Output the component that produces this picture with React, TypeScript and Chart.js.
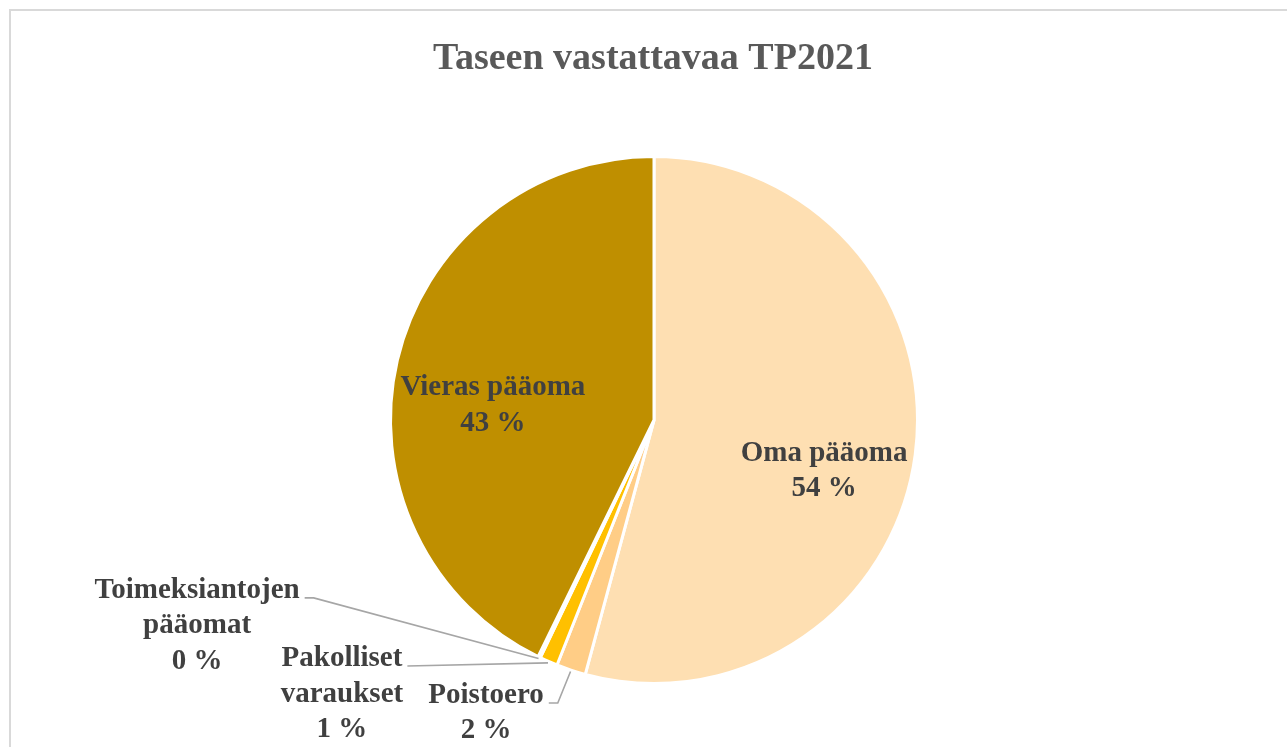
import React, { useEffect, useRef } from "react";
import { Chart, registerables } from "chart.js";

Chart.register(...registerables);

const chartTitle = "Taseen vastattavaa TP2021";
const categories = [
  "Oma pääoma",
  "Poistoero",
  "Pakolliset varaukset",
  "Toimeksiantojen pääomat",
  "Vieras pääoma",
];
const shares = [54.2, 1.8, 1.1, 0.15, 42.75];
const sliceColors = ["#FEDFB2", "#FFCD86", "#FFC000", "#D9A300", "#BF8F00"];
const labelLines = [
  ["Oma pääoma"],
  ["Poistoero"],
  ["Pakolliset", "varaukset"],
  ["Toimeksiantojen", "pääomat"],
  ["Vieras pääoma"],
];

// label placement relative to pie centre, in units of the radius
const labelAnchors = [
  { dx: 0.649, dy: 0.156, leader: false, hook: 0 },
  { dx: -0.641, dy: 1.08, leader: true, hook: 9 },
  { dx: -1.191, dy: 0.939, leader: true, hook: 0 },
  { dx: -1.744, dy: 0.679, leader: true, hook: 9 },
  { dx: -0.615, dy: -0.095, leader: false, hook: 0 },
];

const FONT = "'Liberation Serif', 'Times New Roman', serif";

const labelPlugin = {
  id: "excelLabels",
  afterDraw(chart: any) {
    const ctx = chart.ctx as CanvasRenderingContext2D;
    const meta = chart.getDatasetMeta(0);
    const total = shares.reduce((a, b) => a + b, 0);

    // title
    ctx.save();
    ctx.font = `bold 38px ${FONT}`;
    ctx.fillStyle = "#595959";
    ctx.textAlign = "center";
    ctx.textBaseline = "alphabetic";
    ctx.fillText(chartTitle, 653, 69);
    ctx.restore();

    meta.data.forEach((arc: any, i: number) => {
      const p = arc.getProps(["x", "y", "startAngle", "endAngle", "outerRadius"], true);
      const r = p.outerRadius - 1.5;
      const a = labelAnchors[i];
      const cx = p.x + a.dx * r;
      const by = p.y + a.dy * r;
      const lines = [...labelLines[i], `${Math.round((shares[i] / total) * 100)} %`];
      ctx.save();
      ctx.font = `bold 29px ${FONT}`;
      ctx.fillStyle = "#404040";
      ctx.textAlign = "center";
      ctx.textBaseline = "alphabetic";
      lines.forEach((t, k) => ctx.fillText(t, cx, by + k * 35.5));
      if (a.leader) {
        const w = ctx.measureText(labelLines[i][0]).width;
        const sx = cx + w / 2 + 5;
        const mid = (p.startAngle + p.endAngle) / 2;
        const ex = p.x + Math.cos(mid) * (r + 3);
        const ey = p.y + Math.sin(mid) * (r + 3);
        ctx.strokeStyle = "#A6A6A6";
        ctx.lineWidth = 1.6;
        ctx.beginPath();
        ctx.moveTo(sx, by);
        if (a.hook) ctx.lineTo(sx + a.hook, by);
        ctx.lineTo(ex, ey);
        ctx.stroke();
      }
      ctx.restore();
    });
  },
};

export default function App() {
  const ref = useRef<HTMLCanvasElement | null>(null);

  useEffect(() => {
    if (!ref.current) return;
    const chart = new Chart(ref.current, {
      type: "pie",
      data: {
        labels: categories,
        datasets: [
          {
            data: shares,
            backgroundColor: sliceColors,
            borderColor: "#FFFFFF",
            borderWidth: 3,
          },
        ],
      },
      options: {
        responsive: false,
        animation: false,
        layout: { padding: { left: 389, right: 368, top: 155, bottom: 62 } },
        plugins: {
          legend: { display: false },
          title: { display: false },
          tooltip: { enabled: false },
        },
      },
      plugins: [labelPlugin],
    });
    return () => chart.destroy();
  }, []);

  return (
    <div
      style={{
        position: "absolute",
        left: 0,
        top: 0,
        width: 1287,
        height: 747,
        overflow: "hidden",
        background: "#FFFFFF",
      }}
    >
      <div
        style={{
          position: "absolute",
          left: 9,
          top: 9,
          width: 1400,
          height: 900,
          borderLeft: "2px solid #D9D9D9",
          borderTop: "2px solid #D9D9D9",
        }}
      />
      <canvas
        ref={ref}
        width={1287}
        height={747}
        style={{ position: "absolute", left: 0, top: 0, width: 1287, height: 747 }}
      />
    </div>
  );
}
